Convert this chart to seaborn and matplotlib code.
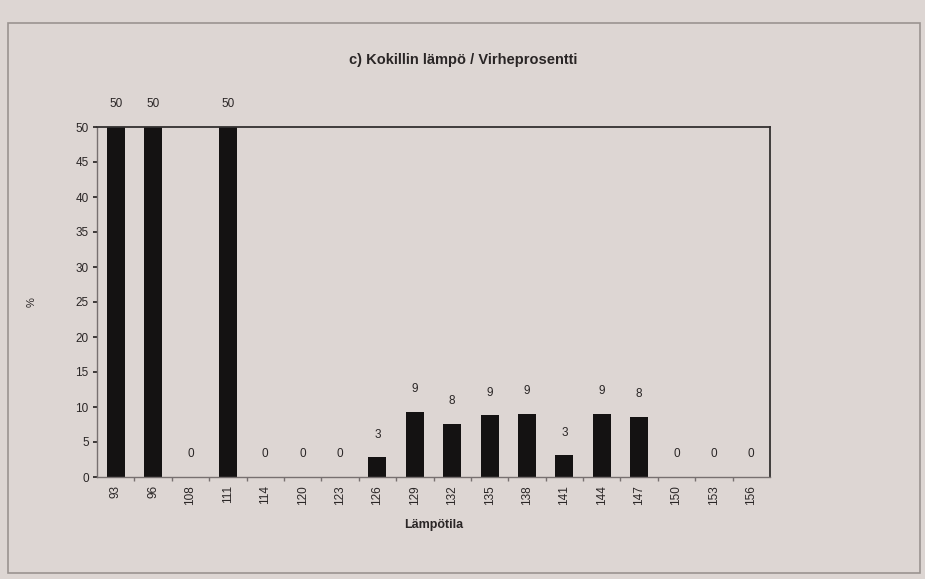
import pandas as pd
import numpy as np
import matplotlib.pyplot as plt
import matplotlib.patches as patches
from matplotlib.ticker import FixedLocator
import seaborn as sns


# Data
temps = ['93', '96', '108', '111', '114', '120', '123', '126', '129',
         '132', '135', '138', '141', '144', '147', '150', '153', '156']
percent = [50, 50, 0, 50, 0, 0, 0, 2.8, 9.3, 7.6, 8.8, 9.0, 3.1, 9.0, 8.6, 0, 0, 0]
bar_labels = ['50', '50', '0', '50', '0', '0', '0', '3', '9',
              '8', '9', '9', '3', '9', '8', '0', '0', '0']

df = pd.DataFrame({'Lämpötila': temps, '%': percent})

paper = '#ddd6d3'
ink = '#2a2626'

sns.set_theme(style='white')
plt.rcParams['font.family'] = ['Liberation Sans', 'DejaVu Sans']

fig = plt.figure(figsize=(925/100, 579/100), dpi=100, facecolor=paper)
ax = fig.add_axes([97/925, 1 - 477/579, (770 - 97)/925, (477 - 127)/579])
ax.set_facecolor(paper)

sns.barplot(data=df, x='Lämpötila', y='%', order=temps, color='#141212',
            width=0.48, saturation=1, edgecolor='none', linewidth=0, ax=ax)

ax.set_ylim(0, 50)
ax.set_yticks(np.arange(0, 51, 5))
ax.set_xlim(-0.5, len(temps) - 0.5)

ax.bar_label(ax.containers[0], labels=bar_labels, padding=12, fontsize=8.5,
             color=ink, clip_on=False)

# small tick marks between the categories
ax.xaxis.set_minor_locator(FixedLocator(np.arange(0.5, len(temps) - 1, 1)))
ax.tick_params(axis='x', which='minor', bottom=True, length=3, color='#777070', direction='out')
ax.tick_params(axis='x', which='major', rotation=90, labelsize=8.5, colors=ink, length=0, pad=6)
ax.tick_params(axis='y', labelsize=8.5, colors=ink, length=3, direction='out', left=True, pad=3)

for side in ['top', 'right']:
    ax.spines[side].set_color('#333030')
    ax.spines[side].set_linewidth(1.3)
for side in ['left', 'bottom']:
    ax.spines[side].set_color('#777070')
    ax.spines[side].set_linewidth(1.0)

ax.set_xlabel('Lämpötila', fontsize=9, fontweight='bold', color=ink, labelpad=10)
ax.set_ylabel('%', fontsize=8, color=ink, rotation=90)
ax.yaxis.set_label_coords(-0.09, 0.5)

fig.text(463/925, 1 - 60/579, 'c) Kokillin lämpö / Virheprosentti', ha='center', va='center',
         fontsize=10.5, fontweight='bold', color=ink)

# outer frame of the chart sheet
fig.patches.append(patches.Rectangle((8/925, 1 - 573/579), (920 - 8)/925, (573 - 23)/579,
                                     transform=fig.transFigure, fill=False,
                                     edgecolor='#9a9390', linewidth=1.2))

plt.savefig('out.png', dpi=100, facecolor=paper)
